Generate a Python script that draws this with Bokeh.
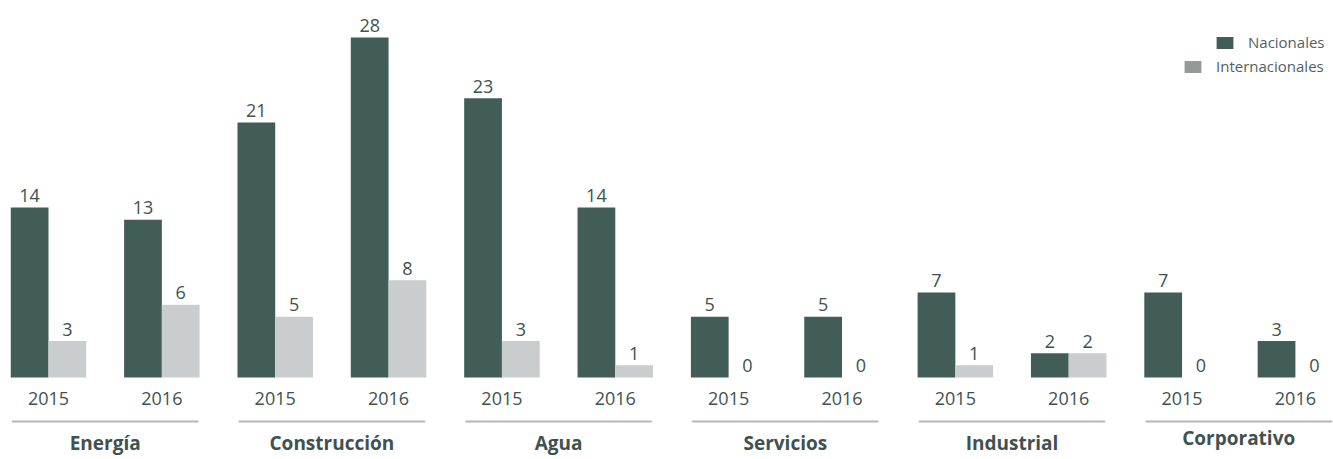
from bokeh.plotting import figure
from bokeh.models import ColumnDataSource, Range1d, Legend, LegendItem
from bokeh.core.properties import value
from bokeh.embed import file_html
from bokeh.resources import INLINE

# ---- data ----
groups = ["Energía", "Construcción", "Agua", "Servicios", "Industrial", "Corporativo"]
years = ["2015", "2016"]
nacionales = [14, 13, 21, 28, 23, 14, 5, 5, 7, 2, 7, 3]
internacionales = [3, 6, 5, 8, 3, 1, 0, 0, 1, 2, 0, 0]

# ---- styles ----
DARK = "#425c58"
LIGHT = "#c9cdcd"
LEG_LIGHT = "#939a97"
TXT = "#40524f"
SEP = "#b3b8b6"
FONT = value("Open Sans")
BW = 0.333          # bar width in slot units
OFF = BW / 2
PX_PER_UNIT = 12.14  # vertical scale (px per value)

n = len(nacionales)
slots = list(range(n))
slot_years = [years[i % 2] for i in slots]

p = figure(width=1333, height=459, output_backend="svg", toolbar_location=None,
           x_range=Range1d(-0.4234, 11.336), y_range=Range1d(-6.755, 31.05),
           min_border=0, min_border_left=0, min_border_right=0,
           min_border_top=0, min_border_bottom=0)
p.axis.visible = False
p.grid.visible = False
p.outline_line_color = None
p.background_fill_color = "white"
p.border_fill_color = "white"

src = ColumnDataSource(dict(
    x_n=[s - OFF for s in slots],
    x_i=[s + OFF for s in slots],
    xc=slots,
    nac=nacionales,
    intl=internacionales,
    nac_lbl=[str(v) for v in nacionales],
    int_lbl=[str(v) for v in internacionales],
    yr=slot_years,
))

p.vbar(x="x_n", top="nac", bottom=0, width=BW, source=src, fill_color=DARK, line_color=None)
p.vbar(x="x_i", top="intl", bottom=0, width=BW, source=src, fill_color=LIGHT, line_color=None)

# value labels
for xcol, ycol, lcol in (("x_n", "nac", "nac_lbl"), ("x_i", "intl", "int_lbl")):
    p.text(x=xcol, y=ycol, text=lcol, source=src, text_font=FONT, text_font_size="18px",
           text_color=TXT, text_align="center", text_baseline="alphabetic", y_offset=-12)

# year labels
p.text(x="xc", y=0, text="yr", source=src, text_font=FONT, text_font_size="18px",
       text_color=TXT, text_align="center", text_baseline="alphabetic", y_offset=21)

# group separators and labels
g_left = [2 * k - 0.322 for k in range(len(groups))]
g_right = [2 * k + 1 + 0.322 for k in range(len(groups))]
g_mid = [2 * k + 0.5 for k in range(len(groups))]
g_yoff = [66, 66, 66, 66, 66, 61]
gsrc = ColumnDataSource(dict(x0=g_left, x1=g_right, xm=g_mid, name=groups, yoff=g_yoff))
sep_y = -44 / PX_PER_UNIT
p.segment(x0="x0", y0=sep_y, x1="x1", y1=sep_y, source=gsrc, line_color=SEP, line_width=2)
p.text(x="xm", y=0, text="name", source=gsrc, text_font=FONT, text_font_size="19px",
       text_font_style="bold", text_color=TXT, text_align="center",
       text_baseline="alphabetic", y_offset="yoff")

# legend (two separate right-aligned entries); dummy zero-height bars
dummy = ColumnDataSource(dict(x=[0], top=[0]))
r_n = p.vbar(x="x", top="top", bottom=0, width=0.3, source=dummy, fill_color=DARK, line_color=None)
r_i = p.vbar(x="x", top="top", bottom=0, width=0.3, source=dummy, fill_color=LEG_LIGHT, line_color=None)

def make_legend(label, rend, loc):
    lg = Legend(items=[LegendItem(label=label, renderers=[rend])], location=loc,
                glyph_width=21, glyph_height=15, label_standoff=13, label_height=15,
                padding=0, margin=0, spacing=0, border_line_color=None,
                background_fill_alpha=0, label_text_font="Open Sans",
                label_text_font_size="15px", label_text_color="#4f625f",
                label_text_baseline="middle")
    return lg

p.add_layout(make_legend("Nacionales", r_n, (1214, 407)))
p.add_layout(make_legend("Internacionales", r_i, (1182, 383)))

open("out.html", "w").write(file_html(p, INLINE))
